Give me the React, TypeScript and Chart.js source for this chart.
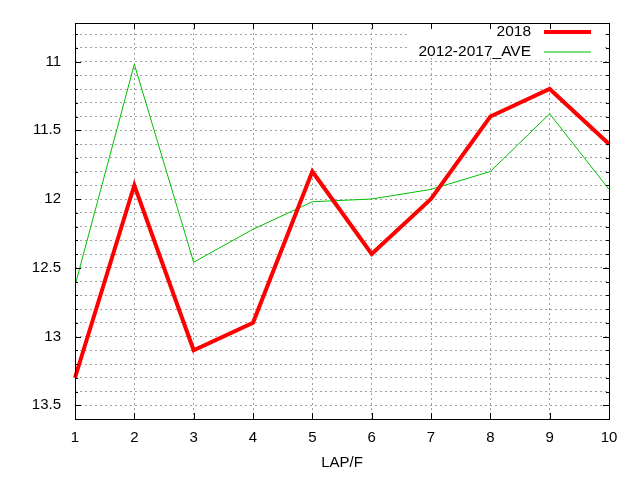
import { useEffect, useRef } from "react";
import { Chart, registerables } from "chart.js";
import type { Plugin } from "chart.js";

Chart.register(...registerables);

const laps = ["1", "2", "3", "4", "5", "6", "7", "8", "9", "10"];
const lap2018 = [13.3, 11.9, 13.1, 12.9, 11.8, 12.4, 12.0, 11.4, 11.2, 11.6];
const lapAve = [12.63, 11.02, 12.46, 12.22, 12.02, 12.0, 11.93, 11.8, 11.38, 11.93];

const FONT = "'Liberation Sans', Arial, sans-serif";

// gnuplot-ish frame: black box, inward ticks, opaque key in the top right
const framePlugin: Plugin<"line"> = {
  id: "frame",
  afterDraw(chart) {
    const { ctx, chartArea: a } = chart;
    const xs = chart.scales.x;
    const ys = chart.scales.y;
    ctx.save();

    // key box
    const boxL = 407;
    const boxB = 57;
    ctx.fillStyle = "#fff";
    ctx.fillRect(boxL, a.top, a.right - 4 - boxL, boxB - a.top);

    // border
    ctx.strokeStyle = "#000";
    ctx.lineWidth = 1;
    ctx.strokeRect(Math.round(a.left) + 0.5, Math.round(a.top) + 0.5, Math.round(a.right - a.left), Math.round(a.bottom - a.top));

    ctx.beginPath();
    ys.ticks.forEach((t) => {
      const v = t.value;
      if (Math.abs(v * 10 - Math.round(v * 10)) > 1e-6) return;
      const major = Math.abs(v * 2 - Math.round(v * 2)) < 1e-6;
      const len = major ? 6 : 3;
      const y = Math.round(ys.getPixelForValue(v)) + 0.5;
      ctx.moveTo(a.left, y);
      ctx.lineTo(a.left + len, y);
      ctx.moveTo(a.right, y);
      ctx.lineTo(a.right - len, y);
    });
    xs.ticks.forEach((_, i) => {
      const x = Math.round(xs.getPixelForTick(i)) + 0.5;
      ctx.moveTo(x, a.bottom);
      ctx.lineTo(x, a.bottom - 6);
      ctx.moveTo(x, a.top);
      ctx.lineTo(x, a.top + 6);
    });
    ctx.stroke();

    // key entries
    ctx.font = `15.5px ${FONT}`;
    ctx.textAlign = "right";
    ctx.textBaseline = "middle";
    chart.data.datasets.forEach((ds, i) => {
      const y = 32 + i * 20;
      ctx.fillStyle = "#000";
      ctx.fillText(String(ds.label), 531, y);
      ctx.strokeStyle = ds.borderColor as string;
      ctx.lineWidth = ds.borderWidth as number;
      ctx.beginPath();
      ctx.moveTo(544, y);
      ctx.lineTo(591, y);
      ctx.stroke();
    });
    ctx.restore();
  },
};

export default function App() {
  const canvasRef = useRef<HTMLCanvasElement>(null);

  useEffect(() => {
    if (!canvasRef.current) return;
    const chart = new Chart(canvasRef.current, {
      type: "line",
      data: {
        labels: laps,
        datasets: [
          {
            label: "2018",
            data: lap2018,
            borderColor: "#ff0000",
            borderWidth: 4,
            pointRadius: 0,
            tension: 0,
          },
          {
            label: "2012-2017_AVE",
            data: lapAve,
            borderColor: "#00c000",
            borderWidth: 1,
            pointRadius: 0,
            tension: 0,
          },
        ],
      },
      options: {
        animation: false,
        responsive: false,
        layout: { padding: { top: 20, right: 31, left: 0, bottom: 0 } },
        plugins: { legend: { display: false }, tooltip: { enabled: false } },
        scales: {
          x: {
            offset: false,
            afterFit: (s) => {
              s.height = 61;
            },
            grid: { color: "#a0a0a0", drawTicks: false },
            border: { display: false, dash: [2, 3] },
            ticks: { color: "#000", padding: 10, font: { family: FONT, size: 15 } },
            title: {
              display: true,
              text: "LAP/F",
              color: "#000",
              font: { family: FONT, size: 15 },
              padding: { top: 0, bottom: 8 },
            },
          },
          y: {
            reverse: true,
            min: 10.72,
            max: 13.6,
            afterFit: (s) => {
              s.width = 75;
            },
            grid: { color: "#a0a0a0", drawTicks: false },
            border: { display: false, dash: [2, 3] },
            ticks: {
              stepSize: 0.1,
              includeBounds: false,
              autoSkip: false,
              maxTicksLimit: 100,
              padding: 14,
              color: "#000",
              font: { family: FONT, size: 15 },
              callback: (v) => {
                const n = Number(v);
                return Math.abs(n * 2 - Math.round(n * 2)) < 1e-6 ? String(Math.round(n * 10) / 10) : "";
              },
            },
          },
        },
      },
      plugins: [framePlugin],
    });
    return () => {
      chart.destroy();
    };
  }, []);

  return (
    <div style={{ position: "fixed", left: 0, top: 0, width: 640, height: 480, background: "#fff" }}>
      <canvas ref={canvasRef} width={640} height={480} style={{ width: 640, height: 480 }} />
    </div>
  );
}
